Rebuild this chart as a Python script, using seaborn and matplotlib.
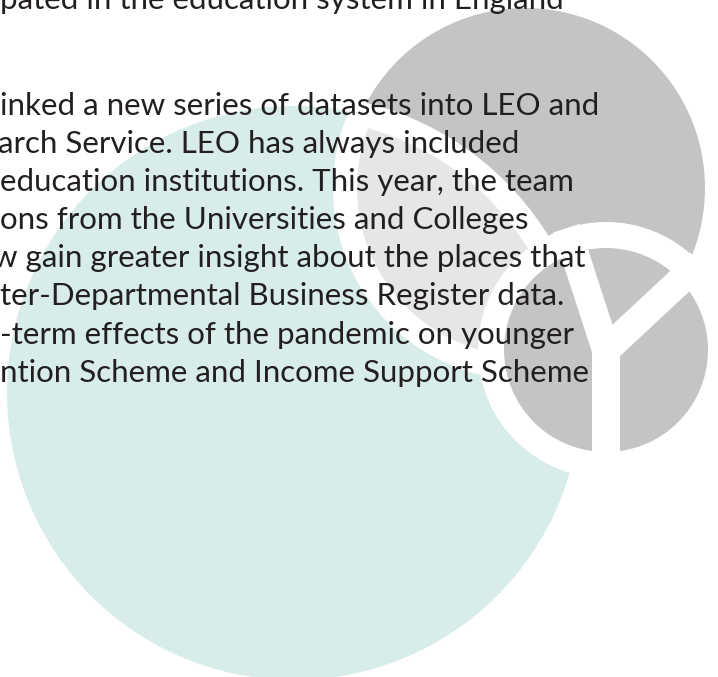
import matplotlib
matplotlib.use("Agg")
import matplotlib.pyplot as plt
from matplotlib.patches import Circle
import numpy as np
import seaborn as sns

# text lines of the cropped page; the first one sits above an empty gap
lines = [
    "pated in the education system in England",
    "inked a new series of datasets into LEO and",
    "arch Service. LEO has always included",
    "education institutions. This year, the team",
    "ons from the Universities and Colleges",
    "w gain greater insight about the places that",
    "ter-Departmental Business Register data.",
    "-term effects of the pandemic on younger",
    "ntion Scheme and Income Support Scheme",
]
line_x = [0, 0, -2, 0, 0, -7, 0, 0, 0]

# background logo: teal circle, big grey circle, small grey circle
circle_names = ["teal", "big", "small"]
circle_x = [294, 525, 606]
circle_y = [393, 188, 350]
circle_r = [287, 180, 102]
ring_r = 128
# Y arms of the small circle, angle in degrees (image coords, 90 = down)
arm_angles = [90, -108, -43]

teal = "#d8edea"
grey = "#c4c4c4"
light_grey = "#e6e6e6"
text_col = "#231f20"

sns.set_theme(style="white")
plt.rcParams["font.family"] = ["Lato", "DejaVu Sans"]

W, H = 718, 677
fig = plt.figure(figsize=(W / 100, H / 100), dpi=100)
ax = fig.add_axes([0, 0, 1, 1])
ax.set_xlim(0, W)
ax.set_ylim(H, 0)
ax.axis("off")

px = 72 / 100  # points per pixel
band = 24

c_teal = Circle((circle_x[0], circle_y[0]), circle_r[0], color=teal, lw=0)
c_big = Circle((circle_x[1], circle_y[1]), circle_r[1], color=grey, lw=0)
ax.add_patch(c_teal)
ax.add_patch(c_big)

lens = Circle((circle_x[1], circle_y[1]), circle_r[1], color=light_grey, lw=0)
ax.add_patch(lens)
lens.set_clip_path(c_teal)

# white seams where the two circles cross each other
seam_big = Circle((circle_x[1], circle_y[1]), circle_r[1], fill=False,
                  ec="white", lw=band * px)
ax.add_patch(seam_big)
seam_big.set_clip_path(c_teal)
seam_teal = Circle((circle_x[0], circle_y[0]), circle_r[0], fill=False,
                   ec="white", lw=band * px)
ax.add_patch(seam_teal)
seam_teal.set_clip_path(c_big)

# small circle with its white ring and Y arms
ax.add_patch(Circle((circle_x[2], circle_y[2]), ring_r, color="white", lw=0))
ax.add_patch(Circle((circle_x[2], circle_y[2]), circle_r[2], color=grey, lw=0))
for a in arm_angles:
    t = np.deg2rad(a)
    ax.plot([circle_x[2], circle_x[2] + ring_r * np.cos(t)],
            [circle_y[2], circle_y[2] + ring_r * np.sin(t)],
            color="white", lw=28 * px, solid_capstyle="butt")
ax.add_patch(Circle((circle_x[2], circle_y[2]), 14, color="white", lw=0))

# baselines: first line cut at the top, then a gap, then regular spacing
first_base, body_base, step = 9, 115, 38.1
for i, (txt, x0) in enumerate(zip(lines, line_x)):
    y = first_base if i == 0 else body_base + (i - 1) * step
    ax.text(x0, y, txt, fontsize=22.5, color=text_col,
            ha="left", va="baseline")

fig.savefig("out.png", dpi=100, facecolor="white")
